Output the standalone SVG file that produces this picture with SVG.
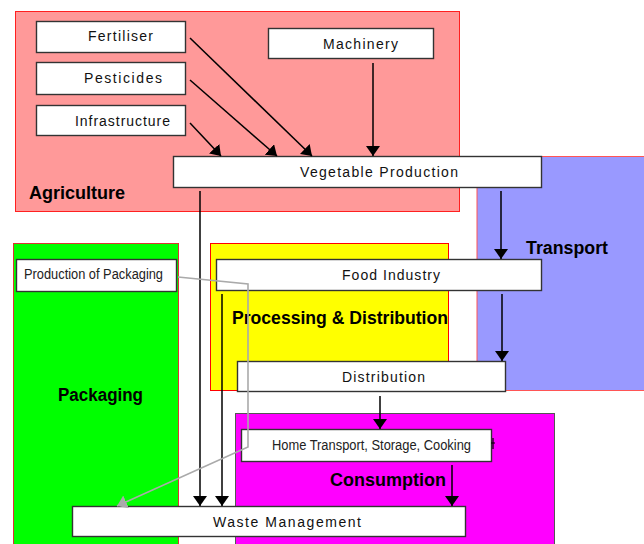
<svg xmlns="http://www.w3.org/2000/svg" width="644" height="544" viewBox="0 0 644 544">
<defs>
<marker id="ah" viewBox="0 0 10 14" refX="10" refY="7" markerWidth="10" markerHeight="14" markerUnits="userSpaceOnUse" orient="auto">
<path d="M0,0 L10,7 L0,14 Z" fill="#000"/>
</marker>
<marker id="ahg" viewBox="0 0 10 14" refX="10" refY="7" markerWidth="10" markerHeight="14" markerUnits="userSpaceOnUse" orient="auto">
<path d="M0,0 L10,7 L0,14 Z" fill="#aaaaaa"/>
</marker>
<style>
.region{stroke-width:1}
.box{fill:#fff;stroke:#333;stroke-width:1.4}
.lbl{font-family:"Liberation Sans",Arial,sans-serif;font-size:14px;fill:#111}
.nar{font-family:"Liberation Sans Narrow","Arial Narrow","Liberation Sans",sans-serif;font-size:14px;fill:#222}
.rl{font-family:"Liberation Sans",Arial,sans-serif;font-size:18px;font-weight:bold;fill:#000}
.con{fill:none;stroke:#000;stroke-width:1.5;marker-end:url(#ah)}
.gcon{fill:none;stroke:#aaaaaa;stroke-width:1.6;marker-end:url(#ahg)}
</style>
</defs>
<rect width="644" height="544" fill="#fff"/>
<g id="regions">
<g id="agriculture"><rect class="region" x="15.5" y="11.5" width="444" height="200" fill="#ff9999" stroke="#ff2020"/><text class="rl" x="29" y="199" textLength="96" lengthAdjust="spacingAndGlyphs">Agriculture</text></g>
<g id="transport"><rect class="region" x="477" y="156.5" width="170" height="234" fill="#9999ff" stroke="#ff5555"/><text class="rl" x="526" y="254" textLength="82" lengthAdjust="spacingAndGlyphs">Transport</text></g>
<g id="packaging"><rect class="region" x="13.5" y="243.5" width="165" height="302" fill="#00ff00" stroke="#dd3333"/><text class="rl" x="58" y="401" textLength="85" lengthAdjust="spacingAndGlyphs">Packaging</text></g>
<g id="processing"><rect class="region" x="210.5" y="243.5" width="238" height="147" fill="#ffff00" stroke="#ff0000"/><text class="rl" x="232" y="324" textLength="216" lengthAdjust="spacingAndGlyphs">Processing &amp; Distribution</text></g>
<g id="consumption"><rect class="region" x="235.5" y="413.5" width="319" height="132" fill="#ff00ff" stroke="#555"/><text class="rl" x="330" y="486" textLength="116" lengthAdjust="spacingAndGlyphs">Consumption</text></g>
</g>
<g id="fertiliser"><rect class="box" x="36.5" y="21.5" width="149" height="31"/><text class="lbl" x="88" y="41" textLength="65" lengthAdjust="spacing">Fertiliser</text></g>
<g id="pesticides"><rect class="box" x="36.5" y="62.5" width="149" height="32"/><text class="lbl" x="84" y="83" textLength="78" lengthAdjust="spacing">Pesticides</text></g>
<g id="infrastructure"><rect class="box" x="36.5" y="105.5" width="149" height="30"/><text class="lbl" x="75" y="126" textLength="95" lengthAdjust="spacing">Infrastructure</text></g>
<g id="machinery"><rect class="box" x="268.5" y="28.5" width="165" height="30"/><text class="lbl" x="323" y="49" textLength="75" lengthAdjust="spacing">Machinery</text></g>
<g id="vegetable-production"><rect class="box" x="173.5" y="156.5" width="368" height="31"/><text class="lbl" x="300" y="177" textLength="158" lengthAdjust="spacing">Vegetable Production</text></g>
<g id="food-industry"><rect class="box" x="216.5" y="259.5" width="325" height="31"/><text class="lbl" x="342" y="280" textLength="98" lengthAdjust="spacing">Food Industry</text></g>
<g id="production-of-packaging"><rect class="box" x="16.5" y="259.5" width="160" height="32"/><text class="nar" x="24" y="279" textLength="139" lengthAdjust="spacingAndGlyphs">Production of Packaging</text></g>
<g id="distribution"><rect class="box" x="237.5" y="361.5" width="268" height="30"/><text class="lbl" x="342" y="382" textLength="83" lengthAdjust="spacing">Distribution</text></g>
<g id="home-transport"><rect class="box" x="241.5" y="429.5" width="250" height="32"/><text class="nar" x="272" y="450" textLength="199" lengthAdjust="spacingAndGlyphs">Home Transport, Storage, Cooking</text></g>
<g id="waste-management"><rect class="box" x="72.5" y="506.5" width="393" height="30"/><text class="lbl" x="213" y="527" textLength="148" lengthAdjust="spacing">Waste Management</text></g>
<g id="connectors">
<path class="con" d="M190,38 L312,156"/>
<path class="con" d="M190,80 L277,156"/>
<path class="con" d="M190,123 L221,156"/>
<path class="con" d="M373,63 L373,156"/>
<path class="con" d="M200,191 L200,506"/>
<path class="con" d="M501,191 L501,259"/>
<path class="con" d="M502,294 L502,361"/>
<path class="con" d="M222,294 L222,506"/>
<path class="con" d="M380,396 L380,429"/>
<path class="con" d="M452,465 L452,506"/>
<path class="gcon" d="M178,277 L248,284 L248,447 L117,506"/>
<path d="M493,438 L493,449 M491,443 L495,443" fill="none" stroke="#000" stroke-width="1.2"/>
</g>
</svg>
